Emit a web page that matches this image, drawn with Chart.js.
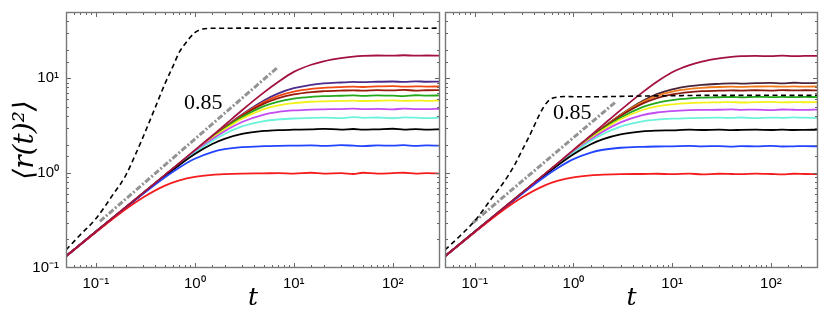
<!DOCTYPE html>
<html><head><meta charset="utf-8">
<script src="https://cdn.jsdelivr.net/npm/chart.js@4.4.1/dist/chart.umd.min.js"></script>
<style>
html,body{margin:0;padding:0;background:#fff;}
#wrap{position:relative;width:830px;height:313px;overflow:hidden;}
canvas{position:absolute;top:0;}
#c1{left:0;} #c2{left:443px;}
</style></head><body>
<div id="wrap"><canvas id="c1" width="443" height="313"></canvas><canvas id="c2" width="387" height="313"></canvas></div>
<script>
// ---- shared time grid for the coloured curves ----
const T = [0.05,0.1,0.2,0.3,0.5,0.7,1,1.5,2,3,5,7,10,15,20,30,40,50,70,100,130,170,220,300];

// ---- left panel ----
const L_RED     = [0.133,0.238,0.415,0.554,0.739,0.839,0.913,0.960,0.977,0.990,0.995,1.00,0.99,1.01,0.99,1.00,0.98,1.01,0.99,1.00,1.01,0.99,1.00,0.99];
const L_BLUE    = [0.133,0.240,0.432,0.605,0.905,1.150,1.420,1.670,1.790,1.880,1.925,1.940,1.950,1.960,1.940,1.970,1.950,1.930,1.960,1.950,1.970,1.940,1.960,1.950];
const L_BLACK   = [0.133,0.241,0.433,0.610,0.932,1.220,1.590,2.030,2.300,2.590,2.785,2.845,2.870,2.890,2.930,2.880,2.920,2.870,2.900,2.940,2.880,2.910,2.870,2.900];
const L_CYAN    = [0.133,0.241,0.434,0.613,0.941,1.240,1.636,2.184,2.591,3.105,3.533,3.684,3.769,3.818,3.850,3.800,3.900,3.830,3.860,3.790,3.880,3.840,3.800,3.860];
const L_VIOLET  = [0.133,0.241,0.435,0.614,0.945,1.252,1.668,2.277,2.767,3.462,4.145,4.421,4.584,4.681,4.710,4.740,4.780,4.720,4.760,4.700,4.790,4.740,4.720,4.770];
const L_YELLOW  = [0.133,0.241,0.435,0.615,0.948,1.259,1.688,2.336,2.889,3.746,4.728,5.185,5.477,5.662,5.720,5.770,5.820,5.760,5.800,5.850,5.780,5.820,5.790,5.830];
const L_GREEN   = [0.133,0.241,0.435,0.615,0.951,1.262,1.697,2.363,2.947,3.894,5.082,5.693,6.110,6.384,6.480,6.550,6.600,6.520,6.620,6.560,6.500,6.630,6.570,6.600];
const L_BROWN   = [0.133,0.241,0.435,0.615,0.952,1.267,1.703,2.383,2.990,4.014,5.405,6.190,6.770,7.165,7.310,7.420,7.470,7.400,7.500,7.450,7.550,7.420,7.480,7.500];
const L_ORANGE  = [0.133,0.241,0.435,0.615,0.952,1.268,1.706,2.394,3.015,4.084,5.607,6.525,7.244,7.748,7.943,8.090,8.160,8.100,8.200,8.250,8.150,8.220,8.180,8.200];
const L_INDIGO  = [0.133,0.241,0.435,0.615,0.952,1.269,1.708,2.406,3.040,4.157,5.841,6.935,7.855,8.543,8.822,9.030,9.150,9.100,9.200,9.250,9.150,9.300,9.200,9.220];
const L_CRIMSON = [0.133,0.242,0.437,0.618,0.958,1.280,1.750,2.480,3.200,4.600,7.100,9.200,11.70,13.90,15.10,16.30,16.90,17.20,17.40,17.30,17.50,17.30,17.40,17.30];
const L_DASH_T  = [0.05,0.07,0.1,0.15,0.2,0.25,0.3,0.4,0.5,0.6,0.7,0.8,0.9,1,1.1,1.2,1.4,1.7,2,3,5,10,20,50,100,200,300];
const L_DASH    = [0.155,0.225,0.33,0.60,0.94,1.55,2.4,4.97,8.78,13.3,19.0,23.1,27.1,30.3,32.2,33.1,33.6,33.7,33.7,33.8,33.7,33.8,33.8,33.7,33.8,33.7,33.8];
const L_SLOPE_T = [0.11, 6.9];
const L_SLOPE   = [0.31, 13.1];

// ---- right panel ----
const R_RED     = [0.133,0.238,0.415,0.553,0.735,0.832,0.903,0.948,0.965,0.978,0.980,0.985,0.975,0.990,0.970,0.985,0.980,0.975,0.990,0.980,0.970,0.985,0.980,0.975];
const R_BLUE    = [0.133,0.240,0.432,0.604,0.900,1.140,1.405,1.650,1.765,1.852,1.895,1.910,1.920,1.935,1.915,1.930,1.905,1.925,1.920,1.940,1.910,1.920,1.930,1.915];
const R_BLACK   = [0.133,0.241,0.433,0.609,0.930,1.215,1.580,2.015,2.280,2.560,2.750,2.805,2.830,2.870,2.850,2.880,2.840,2.860,2.870,2.850,2.880,2.850,2.860,2.870];
const R_CYAN    = [0.133,0.241,0.434,0.613,0.941,1.239,1.634,2.179,2.584,3.094,3.516,3.665,3.750,3.800,3.830,3.850,3.820,3.860,3.800,3.850,3.830,3.870,3.840,3.820];
const R_VIOLET  = [0.133,0.241,0.435,0.614,0.944,1.251,1.665,2.270,2.754,3.436,4.095,4.360,4.515,4.610,4.640,4.660,4.700,4.650,4.680,4.620,4.690,4.660,4.640,4.680];
const R_YELLOW  = [0.133,0.241,0.435,0.615,0.947,1.257,1.683,2.323,2.866,3.694,4.630,5.050,5.310,5.470,5.530,5.580,5.620,5.560,5.600,5.640,5.570,5.610,5.590,5.600];
const R_GREEN   = [0.133,0.241,0.435,0.615,0.950,1.260,1.693,2.352,2.925,3.840,4.960,5.520,5.900,6.150,6.250,6.310,6.350,6.300,6.380,6.330,6.360,6.320,6.370,6.340];
const R_BROWN   = [0.133,0.241,0.435,0.615,0.952,1.267,1.703,2.383,2.990,4.014,5.405,6.190,6.770,7.165,7.310,7.400,7.460,7.420,7.480,7.430,7.520,7.450,7.480,7.470];
const R_ORANGE  = [0.133,0.241,0.435,0.615,0.952,1.268,1.706,2.394,3.015,4.084,5.607,6.525,7.244,7.748,7.943,8.100,8.150,8.120,8.190,8.230,8.160,8.200,8.170,8.210];
const R_PURPLE  = [0.133,0.241,0.435,0.615,0.952,1.269,1.707,2.402,3.032,4.132,5.770,6.800,7.650,8.280,8.540,8.740,8.850,8.800,8.900,8.950,8.850,8.980,8.900,8.920];
const R_CRIMSON = [0.133,0.242,0.437,0.618,0.958,1.280,1.760,2.500,3.230,4.620,7.100,9.200,11.60,13.80,15.00,16.20,16.80,17.10,17.20,17.10,17.30,17.10,17.20,17.20];
const R_DASH_T  = [0.05,0.07,0.1,0.15,0.2,0.25,0.3,0.35,0.4,0.45,0.5,0.55,0.6,0.7,0.85,1,1.5,2,3,5,10,20,50,100,200,300];
const R_DASH    = [0.155,0.215,0.314,0.55,0.82,1.19,1.72,2.35,3.15,4.1,5.0,5.7,6.1,6.35,6.42,6.4,6.38,6.4,6.45,6.5,6.55,6.6,6.6,6.62,6.6,6.62];
const R_SLOPE_T = [0.096, 2.64];
const R_SLOPE   = [0.30, 5.57];

// ---- ticks ----
const X_TICK_VALUES = [0.1, 1, 10, 100];
const X_TICK_LABELS = ['10\u207B\u00B9', '10\u2070', '10\u00B9', '10\u00B2'];
const Y_TICK_VALUES = [0.1, 1, 10];
const Y_TICK_LABELS = ['10\u207B\u00B9', '10\u2070', '10\u00B9'];
const SLOPE_LABEL = '0.85';

function isPow10(v){ const e = Math.log10(v); return Math.abs(e - Math.round(e)) < 1e-6; }
function lookup(vals, labs){ return function(v){ for (let i=0;i<vals.length;i++){ if (Math.abs(Math.log10(v)-Math.log10(vals[i]))<1e-6) return labs[i]; } return ''; }; }
function pts(xs, ys){ return xs.map((x,i)=>({x:x, y:ys[i]})); }

const frameTicks = {
  id:'frameTicks',
  afterDatasetsDraw(chart){
    const {ctx, chartArea:a, scales:{x,y}} = chart;
    ctx.save();
    ctx.strokeStyle = '#666'; ctx.lineWidth = 1;
    ctx.beginPath();
    x.ticks.forEach(t=>{
      const px = Math.round(x.getPixelForValue(t.value)) + 0.5;
      if (px <= a.left+1 || px >= a.right-1) return;
      const len = isPow10(t.value) ? 5 : 3;
      ctx.moveTo(px, a.bottom); ctx.lineTo(px, a.bottom-len);
      ctx.moveTo(px, a.top); ctx.lineTo(px, a.top+len);
    });
    y.ticks.forEach(t=>{
      const py = Math.round(y.getPixelForValue(t.value)) + 0.5;
      if (py <= a.top+1 || py >= a.bottom-1) return;
      const len = isPow10(t.value) ? 5 : 3;
      ctx.moveTo(a.left, py); ctx.lineTo(a.left+len, py);
      ctx.moveTo(a.right, py); ctx.lineTo(a.right-len, py);
    });
    ctx.stroke();
    ctx.strokeStyle = '#777'; ctx.lineWidth = 1.4;
    ctx.strokeRect(a.left+0.5, a.top+0.5, a.right-a.left-1, a.bottom-a.top-1);
    ctx.restore();
  }
};
const slopeText = {
  id:'slopeText',
  afterDatasetsDraw(chart, args, opts){
    const {ctx, scales:{x,y}} = chart;
    ctx.save();
    ctx.font = '22px "Liberation Serif", "DejaVu Serif", serif';
    ctx.fillStyle = '#000'; ctx.textAlign = 'center'; ctx.textBaseline = 'middle';
    ctx.fillText(opts.text, x.getPixelForValue(opts.t), y.getPixelForValue(opts.v));
    ctx.restore();
  }
};

function line(data, color, extra){
  return Object.assign({data:data, borderColor:color, backgroundColor:color, borderWidth:1.8,
    pointRadius:0, fill:false, cubicInterpolationMode:'monotone'}, extra||{});
}

function makeChart(id, s, left){
  const datasets = [
    line(pts(s.dashT, s.dash), '#000', {borderDash:[5,3.5], borderWidth:1.6}),
    line(pts(s.slopeT, s.slope), '#939393', {borderDash:[6,2,2,2], borderWidth:3, cubicInterpolationMode:'default'}),
    line(pts(T, s.crimson), '#a3123f'),
    line(pts(T, s.red), '#f41c1c'),
    line(pts(T, s.blue), '#2244ff'),
    line(pts(T, s.black), '#000000'),
    line(pts(T, s.cyan), '#6af2da'),
    line(pts(T, s.violet), '#c24cf2'),
    line(pts(T, s.yellow), '#f2f21a'),
    line(pts(T, s.green), '#22a81a'),
    line(pts(T, s.brown), s.brownC),
    line(pts(T, s.orange), s.orangeC),
    line(pts(T, s.top), s.topC)
  ];
  return new Chart(document.getElementById(id), {
    type:'line',
    data:{datasets:datasets},
    plugins:[frameTicks, slopeText],
    options:{
      responsive:false, animation:false, events:[],
      layout:{padding: left ? {left:0, right:3, top:12, bottom:0} : {left:0, right:12, top:12, bottom:0}},
      plugins:{legend:{display:false}, tooltip:{enabled:false},
        slopeText:{text:SLOPE_LABEL, t:s.labT, v:s.labV}},
      scales:{
        x:{type:'logarithmic', min:0.05, max:300,
          grid:{display:false, drawTicks:false}, border:{display:false},
          ticks:{autoSkip:false, maxRotation:0, padding:7, color:'#000',
            font:{family:'"Liberation Sans", Arial, sans-serif', size:15},
            callback: lookup(X_TICK_VALUES, X_TICK_LABELS)},
          title:{display:true, text:'t', color:'#000', padding:{top:0,bottom:0},
            font:{family:'"DejaVu Serif", serif', style:'italic', size:25}},
          afterFit(sc){ sc.height = 45; sc.paddingLeft = 0; sc.paddingRight = 0; }
        },
        y:{type:'logarithmic', min:0.1, max:50,
          grid:{display:false, drawTicks:false}, border:{display:false},
          ticks:{display:left, autoSkip:false, padding:7, color:'#000',
            font:{family:'"Liberation Sans", Arial, sans-serif', size:15},
            callback: lookup(Y_TICK_VALUES, Y_TICK_LABELS)},
          title:{display:left, text:'\u27E8r(t)\u00B2\u27E9', color:'#000', padding:{top:9,bottom:0},
            font:{family:'"DejaVu Serif", serif', style:'italic', size:28}},
          afterFit(sc){ sc.width = left ? 66 : 2; sc.paddingTop = 0; sc.paddingBottom = 0; }
        }
      }
    }
  });
}

makeChart('c1', {
  dashT:L_DASH_T, dash:L_DASH, slopeT:L_SLOPE_T, slope:L_SLOPE,
  crimson:L_CRIMSON, red:L_RED, blue:L_BLUE, black:L_BLACK, cyan:L_CYAN, violet:L_VIOLET,
  yellow:L_YELLOW, green:L_GREEN, brown:L_BROWN, orange:L_ORANGE, top:L_INDIGO,
  brownC:'#9a1a0c', orangeC:'#f04812', topC:'#4b2c8c', labT:1.22, labV:5.5
}, true);
makeChart('c2', {
  dashT:R_DASH_T, dash:R_DASH, slopeT:R_SLOPE_T, slope:R_SLOPE,
  crimson:R_CRIMSON, red:R_RED, blue:R_BLUE, black:R_BLACK, cyan:R_CYAN, violet:R_VIOLET,
  yellow:R_YELLOW, green:R_GREEN, brown:R_BROWN, orange:R_ORANGE, top:R_PURPLE,
  brownC:'#8a1a10', orangeC:'#f07a1a', topC:'#4a2438', labT:0.97, labV:4.3
}, false);
</script>
</body></html>
